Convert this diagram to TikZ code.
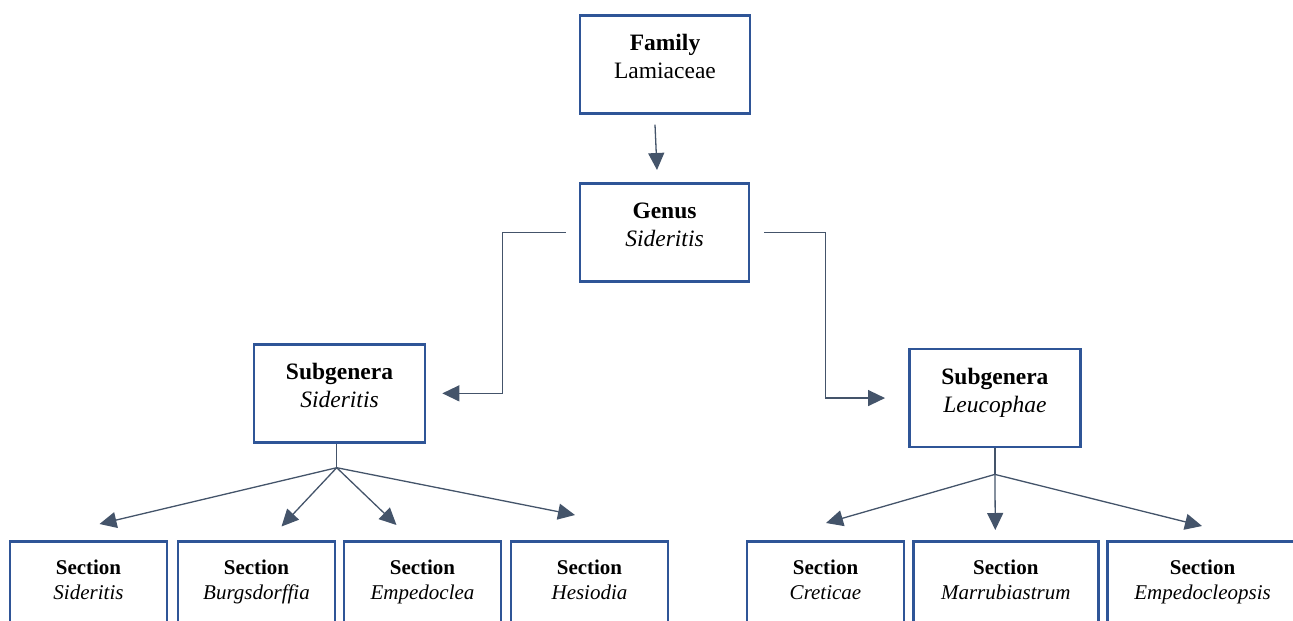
\documentclass[tikz,border=0pt]{standalone}
\usepackage{fontspec}
\setmainfont{Liberation Serif}
\usetikzlibrary{arrows.meta}
\definecolor{boxblue}{HTML}{2F5597}
\definecolor{linkgray}{HTML}{44546A}

\begin{document}
\begin{tikzpicture}[x=1pt,y=-1pt,
    taxon/.style={draw=boxblue, line width=2.7pt, anchor=north, align=center,
        inner xsep=0pt, inner ysep=0pt, text height=63.3pt, text depth=34.7pt,
        minimum width=170pt, font=\fontsize{23.5}{28}\selectfont},
    sectbox/.style={taxon, text height=58pt, text depth=40pt,
        minimum width=157pt, font=\fontsize{21}{25.3}\selectfont},
    link/.style={draw=linkgray, line width=1.3pt},
    tolink/.style={link, -{Triangle[length=17pt,width=16pt]}}]
    \useasboundingbox (0,0) rectangle (1293,621);

    %Family and genus
    \node [taxon] (fam) at (665,14) {\textbf{Family}\\Lamiaceae};
    \node [taxon, minimum width=169pt] (gen) at (664.5,182) {\textbf{Genus}\\\textit{Sideritis}};

    %Subgenera
    \node [taxon, minimum width=171pt] (sgA) at (339.5,343) {\textbf{Subgenera}\\\textit{Sideritis}};
    \node [taxon, minimum width=171pt] (sgB) at (994.9,347.7) {\textbf{Subgenera}\\\textit{Leucophae}};

    %Sections
    \node [sectbox] (s1) at (88.5,540) {\textbf{Section}\\\textit{Sideritis}};
    \node [sectbox] (s2) at (256.5,540) {\textbf{Section}\\\textit{Burgsdorffia}};
    \node [sectbox] (s3) at (422.5,540) {\textbf{Section}\\\textit{Empedoclea}};
    \node [sectbox] (s4) at (589.5,540) {\textbf{Section}\\\textit{Hesiodia}};
    \node [sectbox] (s5) at (825.5,540) {\textbf{Section}\\\textit{Creticae}};
    \node [sectbox, minimum width=185pt] (s6) at (1005.8,540) {\textbf{Section}\\\textit{Marrubiastrum}};
    \node [sectbox, minimum width=190pt] (s7) at (1202.5,540) {\textbf{Section}\\\textit{Empedocleopsis}};

    %Down from family
    \draw [tolink] ([xshift=-10pt,yshift=-10pt]fam.south) -- ([xshift=-7.5pt,yshift=12pt]gen.north);

    %Genus to subgenera
    \draw [tolink] ([xshift=-13pt]gen.west) -- ++(-63,0) |- ([xshift=16pt]sgA.east);
    \draw [tolink] ([xshift=14pt]gen.east) -- ++(61,0) |- ([xshift=-23pt]sgB.west);

    %Left fan
    \coordinate (brA) at ([xshift=-2.8pt,yshift=-24pt]sgA.south);
    \draw [link] ([xshift=-2.8pt]sgA.south) -- (brA);
    \draw [tolink] (brA) -- ([xshift=11pt,yshift=16pt]s1.north);
    \draw [tolink] (brA) -- ([xshift=25pt,yshift=13.5pt]s2.north);
    \draw [tolink] (brA) -- ([xshift=-26pt,yshift=15pt]s3.north);
    \draw [tolink] (brA) -- ([xshift=-14.5pt,yshift=25pt]s4.north);

    %Right fan
    \coordinate (brB) at ([yshift=-26pt]sgB.south);
    \draw [link] (sgB.south) -- (brB);
    \draw [tolink] (brB) -- ([xshift=0.5pt,yshift=17pt]s5.north);
    \draw [tolink] (brB) -- ([xshift=-10.5pt,yshift=10pt]s6.north);
    \draw [tolink] (brB) -- ([xshift=-0.5pt,yshift=14pt]s7.north);
\end{tikzpicture}
\end{document}
